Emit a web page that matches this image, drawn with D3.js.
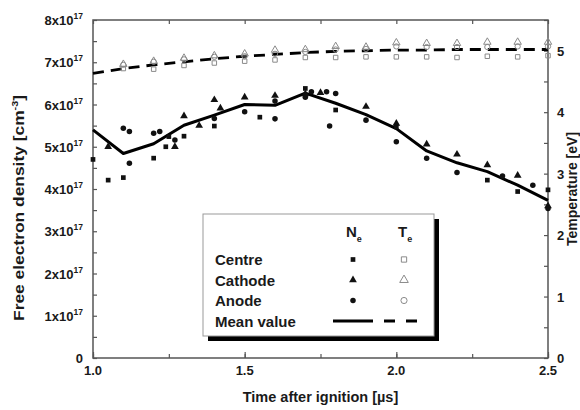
<!DOCTYPE html>
<html>
<head>
<meta charset="utf-8">
<script src="https://cdn.jsdelivr.net/npm/d3@7"></script>
<style>
  html, body { margin: 0; padding: 0; background: #fff; }
  svg { display: block; font-family: "Liberation Sans", Arial, sans-serif; font-weight: bold; }
</style>
</head>
<body>
<svg id="chart" width="580" height="410"></svg>
<script>
// ---- data ----
const xTicks = [1.0, 1.5, 2.0, 2.5];
const neTicks = [0, 1, 2, 3, 4, 5, 6, 7, 8];          // x10^17 cm^-3
const teTicks = [0, 1, 2, 3, 4, 5];                   // eV

const meanTime = [1.0, 1.1, 1.2, 1.3, 1.4, 1.5, 1.6, 1.7, 1.8, 1.9, 2.0, 2.1, 2.2, 2.3, 2.4, 2.5];
const neMean   = [5.40, 4.84, 5.07, 5.51, 5.75, 6.00, 5.98, 6.27, 6.03, 5.76, 5.43, 4.90, 4.62, 4.41, 4.09, 3.73];
const teMean   = [4.63, 4.71, 4.77, 4.82, 4.87, 4.91, 4.94, 4.97, 4.99, 5.00, 5.01, 5.01, 5.02, 5.02, 5.02, 5.02];

const neCentre  = [[1.0,4.70],[1.05,4.21],[1.1,4.27],[1.2,4.73],[1.24,5.0],[1.25,5.24],[1.3,5.25],[1.4,5.49],[1.55,5.70],[1.7,6.38],[1.8,5.87],[2.0,5.47],[2.3,4.21],[2.4,3.94],[2.5,3.98]];
const neCathode = [[1.05,5.0],[1.27,5.0],[1.3,5.73],[1.35,5.50],[1.4,6.11],[1.42,5.91],[1.5,6.17],[1.6,6.21],[1.7,6.25],[1.75,6.28],[1.9,5.95],[2.0,5.55],[2.1,5.06],[2.2,4.82],[2.3,4.57],[2.4,4.32],[2.5,3.60]];
const neAnode   = [[1.1,5.44],[1.12,5.36],[1.12,4.61],[1.2,5.32],[1.22,5.36],[1.27,5.16],[1.4,5.67],[1.5,5.83],[1.6,5.66],[1.6,6.08],[1.7,6.17],[1.72,6.30],[1.78,5.49],[1.77,6.30],[1.8,6.26],[1.9,5.63],[2.0,5.12],[2.1,4.73],[2.2,4.39],[2.35,4.31],[2.45,4.09],[2.5,3.54]];

const teTime    = [1.1, 1.2, 1.3, 1.4, 1.5, 1.6, 1.7, 1.8, 1.9, 2.0, 2.1, 2.2, 2.3, 2.4, 2.5];
const teCentre  = [4.71, 4.70, 4.76, 4.80, 4.83, 4.85, 4.89, 4.89, 4.90, 4.90, 4.90, 4.89, 4.91, 4.90, 4.92];
const teCathode = [4.78, 4.83, 4.88, 4.92, 4.95, 5.01, 5.02, 5.07, 5.06, 5.13, 5.12, 5.12, 5.14, 5.14, 5.14];
const teAnode   = [4.77, 4.82, 4.86, 4.90, 4.91, 4.95, 4.98, 5.02, 5.03, 5.07, 5.06, 5.06, 5.06, 5.07, 5.07];

const legendRows = ["Centre", "Cathode", "Anode", "Mean value"];

// ---- layout ----
const svg = d3.select("#chart");
const L = 93, R = 548, T = 20, B = 358;
const x = d3.scaleLinear().domain([1.0, 2.5]).range([L, R]);
const yN = d3.scaleLinear().domain([0, 8]).range([B, T]);
const yT = d3.scaleLinear().domain([0, 5.5]).range([B, T]);
const axisColor = "#555";
const textColor = "#1a1a1a";

// ticks (inward)
function styleAxis(g) {
  g.select(".domain").remove();
  g.selectAll("line").attr("stroke", axisColor).attr("stroke-width", 1.2);
  g.selectAll("text").remove();
}
const xMinor = d3.range(1.0, 2.5001, 0.25);
svg.append("g").attr("transform", `translate(0,${B})`)
  .call(d3.axisBottom(x).tickValues(xMinor).tickSize(-4)).call(styleAxis);
svg.append("g").attr("transform", `translate(0,${B})`)
  .call(d3.axisBottom(x).tickValues(xTicks).tickSize(-6)).call(styleAxis);
svg.append("g").attr("transform", `translate(0,${T})`)
  .call(d3.axisTop(x).tickValues(xMinor).tickSize(-4)).call(styleAxis);
svg.append("g").attr("transform", `translate(${L},0)`)
  .call(d3.axisLeft(yN).tickValues(d3.range(0, 8.01, 0.5)).tickSize(-4)).call(styleAxis);
svg.append("g").attr("transform", `translate(${R},0)`)
  .call(d3.axisRight(yT).tickValues(d3.range(0, 5.51, 0.5)).tickSize(-4)).call(styleAxis);

// frame
svg.append("rect").attr("x", L).attr("y", T).attr("width", R - L).attr("height", B - T)
  .attr("fill", "none").attr("stroke", axisColor).attr("stroke-width", 1.5);

// tick labels
svg.append("g").selectAll("text").data(xTicks).join("text")
  .attr("x", d => x(d)).attr("y", B + 17).attr("text-anchor", "middle")
  .attr("font-size", 13).attr("fill", textColor).text(d => d.toFixed(1));

const nl = svg.append("g").selectAll("text").data(neTicks).join("text")
  .attr("x", 83).attr("y", d => yN(d) + 5).attr("text-anchor", "end")
  .attr("font-size", 13).attr("fill", textColor);
nl.each(function(d) {
  const t = d3.select(this);
  if (d === 0) { t.text("0"); return; }
  t.append("tspan").text(d + "x10");
  t.append("tspan").attr("dy", -6).attr("font-size", 8.5).text("17");
});

svg.append("g").selectAll("text").data(teTicks).join("text")
  .attr("x", 557).attr("y", d => yT(d) + 5).attr("text-anchor", "start")
  .attr("font-size", 13).attr("fill", textColor).text(d => d);

// axis titles
svg.append("text").attr("x", (L + R) / 2).attr("y", 402).attr("text-anchor", "middle")
  .attr("font-size", 14.5).attr("fill", textColor).text("Time after ignition [µs]");

const yt = svg.append("text").attr("transform", "translate(24,208) rotate(-90) scale(1.2,1)")
  .attr("text-anchor", "middle").attr("font-size", 14.5).attr("fill", textColor);
yt.append("tspan").text("Free electron density [cm");
yt.append("tspan").attr("dy", -6).attr("font-size", 9).text("-3");
yt.append("tspan").attr("dy", 6).text("]");

svg.append("text").attr("transform", `translate(577,${(T + B) / 2}) rotate(-90)`)
  .attr("text-anchor", "middle").attr("font-size", 14).attr("fill", textColor).text("Temperature [eV]");

// mean lines
const lineN = d3.line().x((d, i) => x(meanTime[i])).y(d => yN(d));
const lineT = d3.line().x((d, i) => x(meanTime[i])).y(d => yT(d));
svg.append("path").attr("d", lineN(neMean)).attr("fill", "none").attr("stroke", "#000")
  .attr("stroke-width", 3).attr("stroke-linejoin", "round");
svg.append("path").attr("d", lineT(teMean)).attr("fill", "none").attr("stroke", "#000")
  .attr("stroke-width", 2.8).attr("stroke-dasharray", "11,7");

// markers
const symSquare = d3.symbol().type(d3.symbolSquare);
const symTri = d3.symbol().type(d3.symbolTriangle);
const symCirc = d3.symbol().type(d3.symbolCircle);
function filled(data, sym, size) {
  svg.append("g").selectAll("path").data(data).join("path")
    .attr("transform", d => `translate(${x(d[0])},${yN(d[1])})`)
    .attr("d", sym.size(size)()).attr("fill", "#111");
}
filled(neCentre, symSquare, 22);
filled(neCathode, symTri, 26);
filled(neAnode, symCirc, 24);

function open(vals, sym, size) {
  svg.append("g").selectAll("path").data(vals).join("path")
    .attr("transform", (d, i) => `translate(${x(teTime[i])},${yT(d)})`)
    .attr("d", sym.size(size)()).attr("fill", "none").attr("stroke", "#8a8a8a").attr("stroke-width", 1);
}
open(teCentre, symSquare, 20);
open(teCathode, symTri, 24);
open(teAnode, symCirc, 22);

// legend
const lg = svg.append("g");
lg.append("rect").attr("x", 208).attr("y", 219).attr("width", 231).attr("height", 122).attr("fill", "#000");
lg.append("rect").attr("x", 203).attr("y", 214).attr("width", 231).attr("height", 122)
  .attr("fill", "#fff").attr("stroke", "#999").attr("stroke-width", 1);
const colN = 353, colT = 404;
const hN = lg.append("text").attr("x", 346).attr("y", 237).attr("font-size", 15).attr("fill", textColor);
hN.append("tspan").text("N");
hN.append("tspan").attr("dy", 5).attr("font-size", 9).text("e");
const hT = lg.append("text").attr("x", 398).attr("y", 237).attr("font-size", 15).attr("fill", textColor);
hT.append("tspan").text("T");
hT.append("tspan").attr("dy", 5).attr("font-size", 9).text("e");
const rowY = [259.5, 280, 300.5, 321];
lg.selectAll("text.row").data(legendRows).join("text").attr("class", "row")
  .attr("x", 215).attr("y", (d, i) => rowY[i] + 5.5).attr("font-size", 15).attr("fill", textColor).text(d => d);
const fsyms = [[symSquare, 22], [symTri, 26], [symCirc, 24]];
fsyms.forEach((s, i) => {
  lg.append("path").attr("transform", `translate(${colN},${rowY[i]})`).attr("d", s[0].size(s[1])()).attr("fill", "#111");
  lg.append("path").attr("transform", `translate(${colT},${rowY[i]})`).attr("d", s[0].size(s[1] + 6)())
    .attr("fill", "none").attr("stroke", "#8a8a8a").attr("stroke-width", 1);
});
lg.append("line").attr("x1", 333).attr("x2", 373).attr("y1", rowY[3]).attr("y2", rowY[3])
  .attr("stroke", "#000").attr("stroke-width", 3);
lg.append("line").attr("x1", 384).attr("x2", 417).attr("y1", rowY[3]).attr("y2", rowY[3])
  .attr("stroke", "#000").attr("stroke-width", 2.8).attr("stroke-dasharray", "11,11");
</script>
</body>
</html>
